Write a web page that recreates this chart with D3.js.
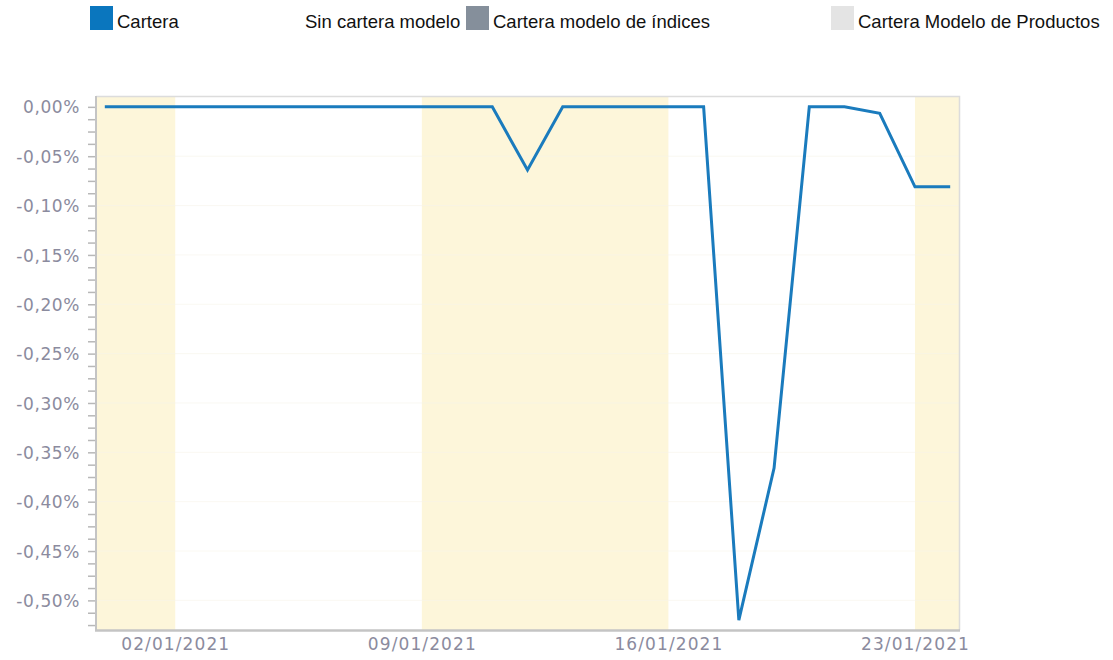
<!DOCTYPE html>
<html>
<head>
<meta charset="utf-8">
<script src="https://cdn.jsdelivr.net/npm/d3@7"></script>
<style>
	body {margin:0; background:#fff;}
	.legendText {font-family:"Liberation Sans", Arial, sans-serif; font-size:18.5px; fill:#111;}
	.axisText {font-family:"DejaVu Sans", Verdana, sans-serif; font-size:17px; fill:#8b8b9e;}
</style>
</head>
<body>
<div id="idChart"></div>
<script>
var aDates=["31/12/2020","01/01/2021","02/01/2021","03/01/2021","04/01/2021","05/01/2021","06/01/2021",
	"07/01/2021","08/01/2021","09/01/2021","10/01/2021","11/01/2021","12/01/2021","13/01/2021",
	"14/01/2021","15/01/2021","16/01/2021","17/01/2021","18/01/2021","19/01/2021","20/01/2021",
	"21/01/2021","22/01/2021","23/01/2021","24/01/2021"];
var aCartera=[0,0,0,0,0,0,0,
	0,0,0,0,0,-0.064,0,
	0,0,0,0,-0.52,-0.366,0,
	0,-0.0065,-0.081,-0.081];
var aXTicks=["02/01/2021","09/01/2021","16/01/2021","23/01/2021"];
var aYTicks=[0,-0.05,-0.10,-0.15,-0.20,-0.25,-0.30,-0.35,-0.40,-0.45,-0.50];
var aBands=[[null,"02/01/2021"],["09/01/2021","16/01/2021"],["23/01/2021",null]];
var aLegendNames=["Cartera","Sin cartera modelo","Cartera modelo de índices","Cartera Modelo de Productos"];
var aLegendColors=["#0a76be","#ffffff","#858f9b","#e4e4e4"];

var iWidth=1113;
var iHeight=660;
var iLeft=96, iRight=959, iTop=96, iBottom=630;

var fParse=d3.utcParse("%d/%m/%Y");
var fFormatDate=d3.utcFormat("%d/%m/%Y");
var myLocale=d3.formatLocale({decimal:",", thousands:".", grouping:[3], currency:["","€"], minus:"-"});
var fFormatPct=myLocale.format(".2f");

var myData=aDates.map(function(sDate,i){return {date:fParse(sDate), value:aCartera[i]};});

var dStart=d3.utcHour.offset(myData[0].date,-6);
var dEnd=d3.utcHour.offset(myData[myData.length-1].date,6);

var x=d3.scaleUtc().domain([dStart,dEnd]).range([iLeft,iRight]);
var y=d3.scaleLinear().domain([0.011,-0.53]).range([iTop,iBottom]);

var mySvg=d3.select("#idChart").append("svg")
	.attr("width",iWidth)
	.attr("height",iHeight);

// shaded weeks
mySvg.append("g").selectAll("rect")
	.data(aBands)
	.enter().append("rect")
		.attr("x",function(d){return d[0] ? x(fParse(d[0])) : iLeft;})
		.attr("width",function(d){return (d[1] ? x(fParse(d[1])) : iRight)-(d[0] ? x(fParse(d[0])) : iLeft);})
		.attr("y",iTop)
		.attr("height",iBottom-iTop)
		.attr("fill","#fdf6da");

// faint grid (barely visible)
mySvg.append("g").selectAll("line")
	.data(aYTicks.slice(1))
	.enter().append("line")
		.attr("x1",iLeft).attr("x2",iRight)
		.attr("y1",function(d){return y(d);}).attr("y2",function(d){return y(d);})
		.attr("stroke","#f6f3ea")
		.attr("stroke-opacity",0.6)
		.attr("stroke-width",1);

// frame top/right
mySvg.append("path")
	.attr("d","M"+iLeft+","+(iTop+0.5)+"H"+(iRight+0.5)+"V"+iBottom)
	.attr("fill","none")
	.attr("stroke","#dcdcdc")
	.attr("stroke-width",1.5);

// y axis
var aMinor=d3.range(0,-0.53,-0.0125);
var myYAxis=d3.axisLeft(y)
	.tickValues(aMinor)
	.tickSize(8)
	.tickFormat(function(d){
		var bMajor=aYTicks.some(function(v){return Math.abs(v-d)<1e-9;});
		return bMajor ? fFormatPct(d)+"%" : "";
	});
var gY=mySvg.append("g")
	.attr("transform","translate("+iLeft+",0)")
	.call(myYAxis);
gY.select(".domain").remove();
gY.selectAll(".tick line").attr("stroke","#b8b8b8").attr("stroke-width",1.5);
gY.selectAll(".tick text")
	.attr("class","axisText")
	.attr("x",-16)
	.attr("dy","0.36em")
	.style("letter-spacing","0.6px");
mySvg.append("line")
	.attr("x1",iLeft).attr("x2",iLeft)
	.attr("y1",iTop).attr("y2",iBottom+1)
	.attr("stroke","#c4c4c4").attr("stroke-width",2);

// x axis
var myXAxis=d3.axisBottom(x)
	.tickValues(aXTicks.map(fParse))
	.tickSize(0)
	.tickFormat(fFormatDate);
var gX=mySvg.append("g")
	.attr("transform","translate(0,"+iBottom+")")
	.call(myXAxis);
gX.select(".domain").remove();
gX.selectAll(".tick text")
	.attr("class","axisText")
	.attr("y",8)
	.attr("dy","0.71em")
	.style("letter-spacing","1.1px");
mySvg.append("line")
	.attr("x1",iLeft-1).attr("x2",iRight+1)
	.attr("y1",iBottom+0.5).attr("y2",iBottom+0.5)
	.attr("stroke","#c4c4c4").attr("stroke-width",2.5);

// line
var fLine=d3.line()
	.x(function(d){return x(d.date);})
	.y(function(d){return y(d.value);});
mySvg.append("path")
	.datum(myData)
	.attr("d",fLine)
	.attr("fill","none")
	.attr("stroke","#1a7bbd")
	.attr("stroke-width",3)
	.attr("stroke-linejoin","miter");

// legend
var aLegendX=[90,278,466,831];
var gLegend=mySvg.append("g").selectAll("g")
	.data(aLegendNames)
	.enter().append("g")
		.attr("transform",function(d,i){return "translate("+aLegendX[i]+",6)";});
gLegend.append("rect")
	.attr("width",23)
	.attr("height",24)
	.attr("fill",function(d,i){return aLegendColors[i];});
gLegend.append("text")
	.attr("class","legendText")
	.attr("x",27)
	.attr("y",22)
	.text(function(d){return d;});
</script>
</body>
</html>
